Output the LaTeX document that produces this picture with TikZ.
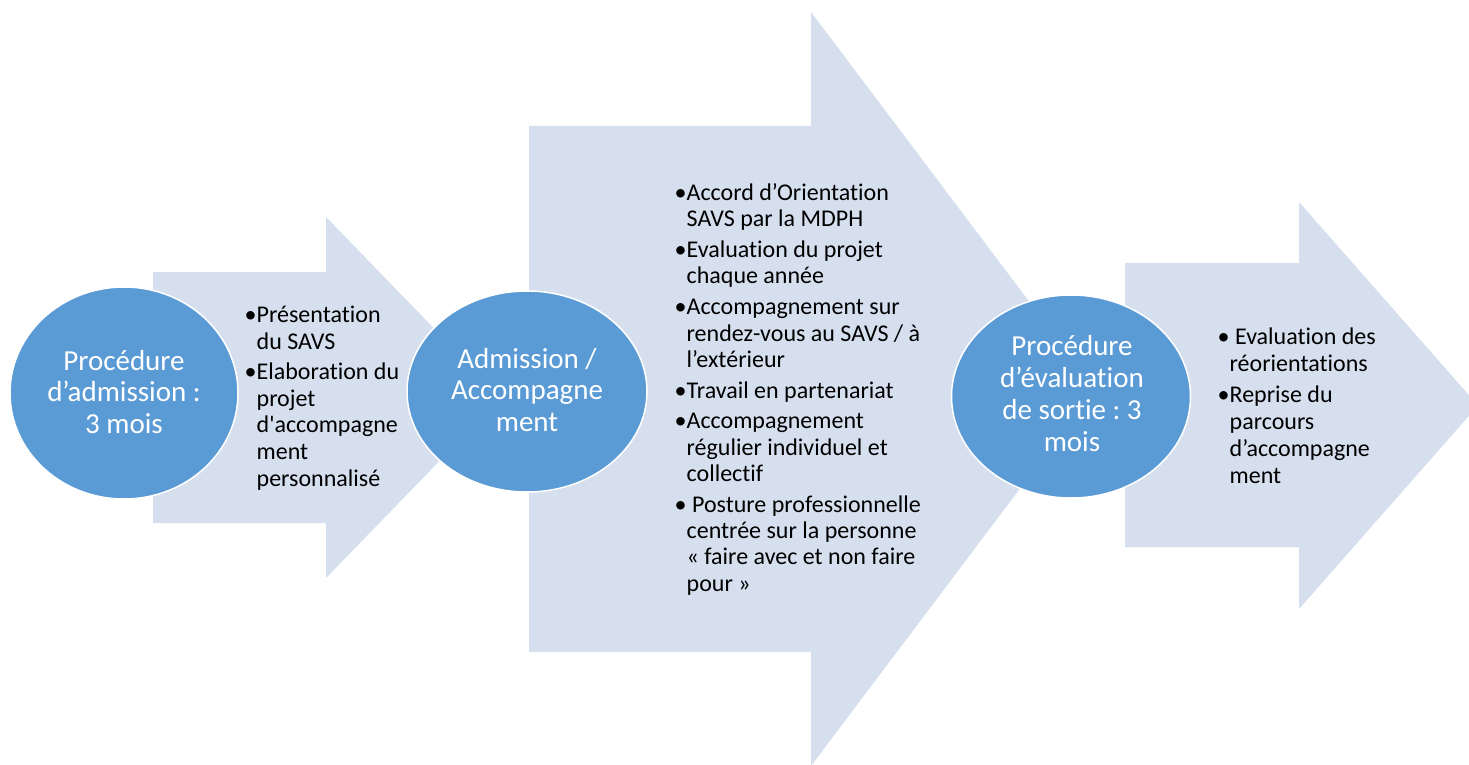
\documentclass[tikz,border=0pt]{standalone}
\usepackage{fontspec}
\setmainfont{Carlito}[Ligatures={NoCommon}]
\usetikzlibrary{shapes.geometric}
\definecolor{arrowfill}{RGB}{213,223,238}
\definecolor{ovalfill}{RGB}{91,155,213}
\frenchspacing
\begin{document}
\begin{tikzpicture}[x=1pt,y=-1pt,
  bigarrow/.style={fill=arrowfill, draw=none},
  oval/.style={ellipse, fill=ovalfill, draw=white, line width=1.5pt, inner sep=0pt},
  ovaltext/.style={anchor=base, inner sep=0pt, text=white},
  listtext/.style={anchor=base west, inner sep=0pt, text=black}]
\useasboundingbox (0,0) rectangle (1469,765);
\clip (0,0) rectangle (1469,765);
% big block arrows
\fill[bigarrow] (153,272) -- (326,272) -- (326,217) -- (501,397.5) -- (326,578) -- (326,523) -- (153,523) -- cycle;
\fill[bigarrow] (529,126) -- (811,126) -- (811,12) -- (1095,389) -- (811,766) -- (811,652) -- (529,652) -- cycle;
\fill[bigarrow] (1125,263) -- (1299,263) -- (1299,202) -- (1478,405.5) -- (1299,609) -- (1299,547) -- (1125,547) -- cycle;
% list texts
\node[listtext, font=\fontsize{24}{26.7}\selectfont] (t1) at (244.5,322.5) {\begin{tabular}[t]{@{}l@{}l@{}}
•&Présentation\\&du SAVS\\[3.5pt]
•&Elaboration du\\&projet\\&d\textquotesingle accompagne\\&ment\\&personnalisé
\end{tabular}};
\node[listtext, font=\fontsize{24}{26.3}\selectfont] (t2) at (674.5,200.5) {\begin{tabular}[t]{@{}l@{}l@{}}
•&Accord d’Orientation\\&SAVS par la MDPH\\[4.5pt]
•&Evaluation du projet\\&chaque année\\[4.5pt]
•&Accompagnement sur\\&rendez-vous au SAVS / à\\&l’extérieur\\[4.5pt]
•&Travail en partenariat\\[4.5pt]
•&Accompagnement\\&régulier individuel et\\&collectif\\[4.5pt]
•&\ Posture professionnelle\\&centrée sur la personne\\&« faire avec et non faire\\&pour »
\end{tabular}};
\node[listtext, font=\fontsize{24}{27}\selectfont] (t3) at (1217.5,344.5) {\begin{tabular}[t]{@{}l@{}l@{}}
•&\ Evaluation des\\&réorientations\\[4pt]
•&Reprise du\\&parcours\\&d’accompagne\\&ment
\end{tabular}};
% ovals
\node[oval, minimum width=228pt, minimum height=212pt] (e1) at (124,393) {};
\node[oval, minimum width=240pt, minimum height=201pt] (e2) at (527,391.5) {};
\node[oval, minimum width=239pt, minimum height=203pt] (e3) at (1071,396.5) {};
\node[ovaltext, font=\fontsize{29}{31.5}\selectfont] (l1) at (124,370) {\begin{tabular}[t]{@{}c@{}}Procédure\\d’admission :\\3 mois\end{tabular}};
\node[ovaltext, font=\fontsize{29}{31.5}\selectfont] (l2) at (527,368) {\begin{tabular}[t]{@{}c@{}}Admission /\\Accompagne\\ment\end{tabular}};
\node[ovaltext, font=\fontsize{29}{32}\selectfont] (l3) at (1072,355) {\begin{tabular}[t]{@{}c@{}}Procédure\\d’évaluation\\de sortie : 3\\mois\end{tabular}};
\end{tikzpicture}
\end{document}
